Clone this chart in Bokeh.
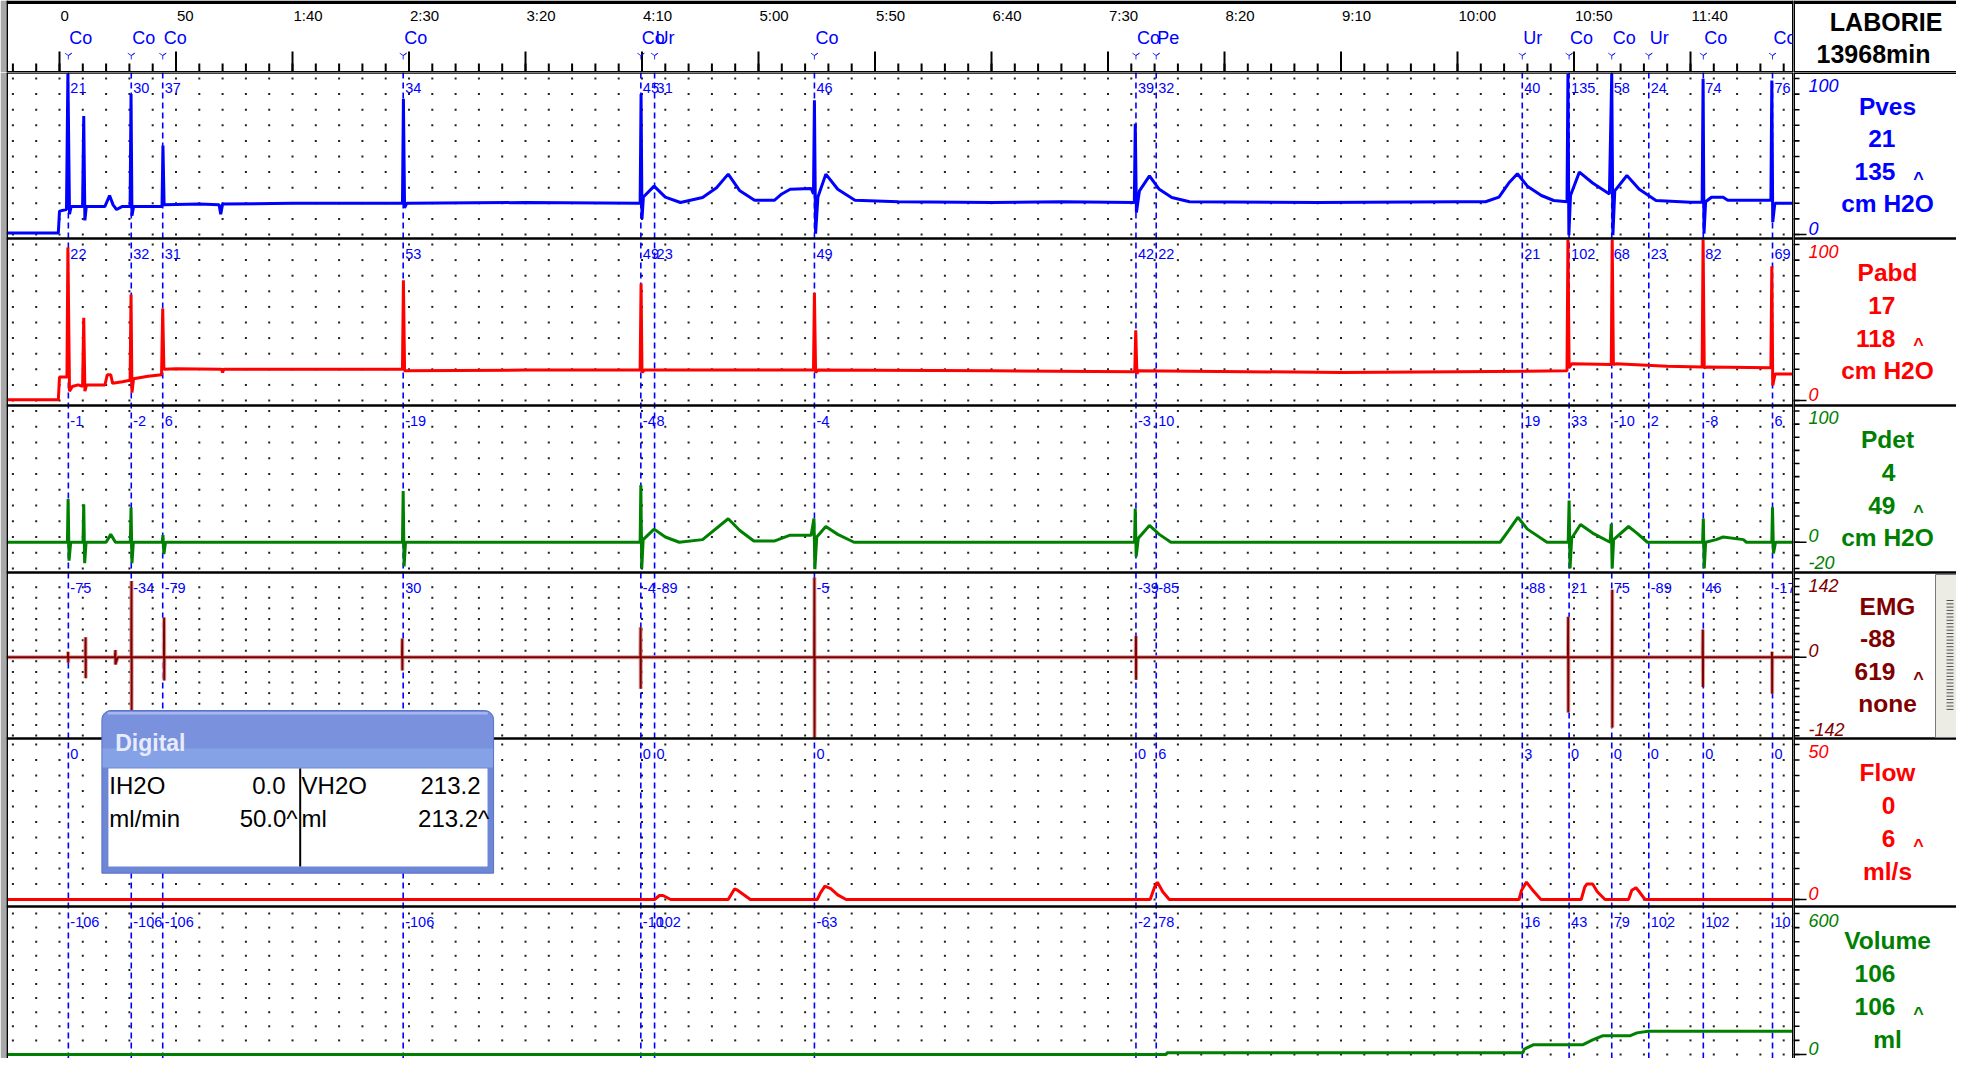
import numpy as np
from bokeh.plotting import figure
from bokeh.models import Range1d
from bokeh.layouts import row, column
from bokeh.embed import file_html
from bokeh.resources import INLINE
from bokeh.core.properties import value

# ---------------- values ----------------
tick_seconds = [0, 50, 100, 150, 200, 250, 300, 350, 400, 450, 500, 550, 600, 650, 700]
tick_labels = ["0", "50", "1:40", "2:30", "3:20", "4:10", "5:00", "5:50",
               "6:40", "7:30", "8:20", "9:10", "10:00", "10:50", "11:40"]
minor_tick_seconds = list(range(-20, 750, 10))

event_times = [3.8, 30.8, 44.3, 147.5, 249.5, 255.4, 324.0, 462.0, 470.7,
               627.8, 647.9, 666.2, 682.1, 705.5, 735.2]
event_codes = ["Co", "Co", "Co", "Co", "Co", "Ur", "Co", "Co", "Pe",
               "Ur", "Co", "Co", "Ur", "Co", "Co"]

pves_marks = ["21", "30", "37", "34", "45", "31", "46", "39", "32", "40", "135", "58", "24", "74", "76"]
pabd_marks = ["22", "32", "31", "53", "49", "23", "49", "42", "22", "21", "102", "68", "23", "82", "69"]
pdet_marks = ["-1", "-2", "6", "-19", "-4", "8", "-4", "-3", "10", "19", "33", "-10", "2", "-8", "6"]
emg_marks = ["-75", "-34", "-79", "30", "-4", "-89", "-5", "-39", "-85", "-88", "21", "75", "-89", "46", "-17"]
flow_marks = ["0", "0", "0", "0", "0", "0", "0", "0", "6", "3", "0", "0", "0", "0", "0"]
volume_marks = ["-106", "-106", "-106", "-106", "-10", "102", "-63", "-2", "78", "16", "43", "79", "102", "102", "102"]

pves_t = [-22.7, -0.5, 0.0, 3.0, 3.6, 4.3, 5.0, 9.9, 10.4, 10.9, 11.5, 19.5, 21.5, 23.0, 24.5, 27.0,
          30.3, 30.7, 31.1, 31.8, 44.0, 44.4, 44.9, 60.0, 68.5, 69.2, 70.0, 100.0, 147.2, 147.6, 148.1,
          149.0, 200.0, 249.2, 249.6, 250.0, 250.6, 255.2, 260.0, 266.5, 276.0, 282.0, 287.0, 292.0,
          298.3, 306.9, 310.0, 313.6, 322.6, 323.6, 324.0, 324.5, 325.5, 328.9, 334.0, 341.4, 360.0,
          400.0, 430.0, 461.3, 461.7, 462.2, 463.5, 467.8, 472.0, 477.4, 485.0, 540.0, 600.0, 612.0,
          617.8, 622.0, 625.7, 630.0, 636.0, 641.3, 647.0, 647.4, 647.8, 648.5, 652.3, 658.0, 665.2,
          666.2, 666.7, 667.5, 672.7, 678.0, 685.2, 700.0, 705.0, 705.4, 705.8, 706.5, 709.0, 714.0,
          716.0, 734.5, 734.9, 735.3, 736.2, 744.2]
pves_v = [1, 1, 15, 16, 103, 13, 18, 18, 76, 9, 18, 18, 25, 19, 16, 18,
          18, 90, 12, 18, 18, 57, 19, 19.5, 19, 13, 19.5, 20, 20, 87, 17,
          20, 20.5, 20, 90, 10, 24, 31, 24, 20.5, 23.7, 30, 38.7, 28,
          22, 22, 26, 29, 29.5, 26, 86, 0.5, 24, 38.7, 29, 22, 21,
          20.5, 21, 20.5, 71, 14, 28, 37.6, 29, 23.7, 21, 20.5, 21, 21,
          24, 33, 38.9, 31, 25, 21.8, 21, 103, -0.5, 25, 40, 33, 26,
          103, -0.5, 28, 37.8, 29, 21.8, 20.7, 20.7, 99.8, 0.6, 21, 23.9, 23.9,
          22, 22, 98.7, 7.9, 20, 20]

pabd_t = [-22.7, -0.5, 0.0, 3.2, 3.6, 4.3, 5.5, 8.0, 9.9, 10.4, 10.9, 11.6, 19.5, 20.5, 22.0, 22.8,
          27.0, 30.3, 30.7, 31.1, 31.8, 38.0, 43.8, 44.3, 44.8, 50.0, 69.5, 70.0, 70.5, 100.0, 147.2,
          147.6, 148.1, 200.0, 249.2, 249.6, 250.0, 251.0, 323.6, 324.0, 324.5, 325.5, 400.0, 461.5,
          461.9, 462.4, 463.0, 550.0, 600.0, 647.0, 647.4, 647.9, 649.0, 666.0, 666.4, 666.9, 668.0,
          690.0, 705.0, 705.4, 705.9, 707.0, 734.5, 734.9, 735.3, 736.3, 744.2]
pabd_v = [0.5, 0.5, 15, 15, 98, 6, 9, 10, 9, 53, 6, 10, 10, 16.5, 16.5, 11,
          12, 13, 68, 5, 14, 15.5, 16.5, 59, 20, 20.3, 20, 18, 20, 20, 20,
          77, 19, 19.5, 19.5, 75, 18, 19.5, 19.5, 69, 18, 19.5, 19, 18.5,
          45, 17, 19, 18, 18.5, 19, 103, 21, 23.5, 23, 103, 23, 23.5,
          22, 21.4, 103, 21, 21.4, 21, 86, 9.6, 17, 17]

pdet_t = [-22.7, 3.4, 3.7, 4.1, 4.8, 10.1, 10.4, 10.8, 11.4, 20.0, 22.0, 24.0, 30.4, 30.7, 31.1,
          31.7, 44.1, 44.4, 44.8, 45.5, 147.2, 147.5, 147.9, 148.5, 249.2, 249.5, 249.9, 250.5,
          255.2, 260.0, 266.0, 276.0, 287.0, 292.0, 298.0, 307.0, 313.6, 322.6, 323.8, 324.2, 325.0,
          328.9, 334.0, 341.0, 461.4, 461.7, 462.1, 463.0, 467.8, 472.0, 477.0, 618.3, 622.0, 625.9,
          630.0, 638.4, 647.5, 647.9, 648.3, 649.0, 652.8, 658.0, 665.5, 666.0, 666.4, 667.0, 673.4,
          677.0, 681.5, 705.2, 705.5, 705.9, 706.5, 711.0, 714.0, 722.7, 724.0, 734.9, 735.2, 735.6,
          736.5, 744.2]
pdet_v = [0, 0, 33, -14, 0, 0, 29, -16, 0, 0, 6, 0, 0, 26.5, -16,
          0, 0, 5.4, -9, 0, 0, 39, -18.5, 0, 0, 43.7, -20, 2,
          10, 4, 0, 2, 17.9, 9, 1, 1, 5.4, 5.4, 18, -20.5, 4,
          12, 6, 0, 0, 25.7, -11, 3, 12.8, 6, 0, 0, 9, 19,
          10, 0, 0, 31.8, -20, 3, 13.5, 7, 0, 14, -20, 2, 12,
          7, 0, 0, 18, -20, 0, 2, 4, 2, 0, 0, 26.7, -8.6,
          0, 0]

emg_t = [-22.7, 3.6, 3.7, 3.75, 3.8, 11.1, 11.2, 11.25, 11.3, 23.8, 24.0, 24.0, 25.0,
         30.8, 30.9, 30.95, 31.0, 44.8, 44.9, 44.95, 45.0, 147.0, 147.1, 147.15, 147.2,
         249.3, 249.4, 249.45, 249.5, 323.9, 324.0, 324.05, 324.1, 461.9, 462.0, 462.05, 462.1,
         647.4, 647.5, 647.55, 647.6, 666.3, 666.4, 666.45, 666.5, 705.2, 705.3, 705.35, 705.4,
         734.9, 735.0, 735.05, 735.1, 744.2]
emg_v = [0, 0, 10, -10, 0, 0, 36, -38, 0, 0, 13, -13, 0,
         0, 138, -97, 0, 0, 72, -42, 0, 0, 34, -24, 0,
         0, 54, -57, 0, 0, 144, -145, 0, 0, 39, -41, 0,
         0, 73, -100, 0, 0, 122, -127, 0, 0, 50, -54, 0,
         0, 10, -66, 0, 0]

flow_t = [-22.7, 255.4, 257.5, 259.0, 262.3, 287.0, 289.7, 291.0, 296.5, 325.2, 326.5, 328.5,
          331.0, 334.0, 337.6, 468.1, 470.0, 471.2, 473.5, 476.3, 626.4, 627.5, 629.6, 632.5,
          635.8, 653.1, 654.6, 655.5, 658.0, 660.0, 663.3, 673.4, 674.8, 676.6, 678.0, 680.5, 744.2]
flow_v = [0, 0, 1.3, 1.3, 0, 0, 3.4, 3.0, 0, 0, 2.0, 4.3,
          3.5, 1.5, 0, 0, 4.0, 5.6, 2.5, 0, 0, 3.0, 5.6, 2.8,
          0, 0, 4.0, 5.0, 5.0, 2.5, 0, 0, 3.0, 3.8, 2.5, 0, 0]

volume_t = [-22.7, 475.0, 475.3, 628.0, 628.7, 632.7, 653.9, 658.0, 662.5, 674.2, 677.0, 681.9, 744.2]
volume_v = [0, 0, 7, 7, 23, 42, 42, 62, 80, 80, 92, 99, 99]

chan_names = ["Pves", "Pabd", "Pdet", "EMG", "Flow", "Volume"]
chan_current = ["21", "17", "4", "-88", "0", "106"]
chan_max = ["135", "118", "49", "619", "6", "106"]
chan_units = ["cm H2O", "cm H2O", "cm H2O", "none", "ml/s", "ml"]

digital_left = ["IH2O", "ml/min"]
digital_left_vals = ["0.0", "50.0^"]
digital_right = ["VH2O", "ml"]
digital_right_vals = ["213.2", "213.2^"]

# ---------------- geometry / styling ----------------
FONT = value("Liberation Sans")
BLUE, RED, GREEN, DRED = "#0000ff", "#ff0000", "#008000", "#800000"
PX_PER_S, X_ZERO = 2.33, 59.0
LEFT_B = 6
T0, T1 = (LEFT_B - X_ZERO) / PX_PER_S, (1793 - X_ZERO) / PX_PER_S
BOT, TOP = 1058, 72
bands = [72, 238, 405, 572, 738, 906, 1058]
ref_h = [166, 167, 167, 166, 168, 168]
XR = Range1d(T0, T1)
LEFT_W, RIGHT_W = 1793, 163
HEAD_H, MAIN_H = 72, 986
RX0, RX1 = 1793, 1956


def chan_range(va, ya, vb, yb):
    s = (vb - va) / (yb - ya)
    return Range1d(start=va + s * (BOT - ya), end=va + s * (TOP - ya))


channels = [
    dict(key="pves", rng=chan_range(0, 234, 100, 78), t=pves_t, v=pves_v, color=BLUE, marks=pves_marks,
         rows=list(range(0, 101, 10)), ticks=list(range(0, 101, 10)),
         labels=[(100, "100", "top"), (0, "0", "bottom")]),
    dict(key="pabd", rng=chan_range(0, 400, 100, 244), t=pabd_t, v=pabd_v, color=RED, marks=pabd_marks,
         rows=list(range(0, 101, 10)), ticks=list(range(0, 101, 10)),
         labels=[(100, "100", "top"), (0, "0", "bottom")]),
    dict(key="pdet", rng=chan_range(0, 541.75, 100, 410.5), t=pdet_t, v=pdet_v, color=GREEN, marks=pdet_marks,
         rows=list(range(-20, 101, 12)), ticks=list(range(-20, 101, 10)),
         labels=[(100, "100", "top"), (0, "0", "bottom"), (-20, "-20", "bottom")]),
    dict(key="emg", rng=chan_range(0, 656.7, 142, 578.2), t=emg_t, v=emg_v, color=DRED, marks=emg_marks,
         rows=list(np.linspace(-141.6, 126.6, 15)), ticks=list(np.linspace(-142, 142, 21)),
         labels=[(142, "142", "top"), (0, "0", "bottom"), (-142, "-142", "bottom")]),
    dict(key="flow", rng=chan_range(0, 899, 50, 744), t=flow_t, v=flow_v, color=RED, marks=flow_marks,
         rows=list(range(0, 51, 5)), ticks=list(range(0, 51, 5)),
         labels=[(50, "50", "top"), (0, "0", "bottom")]),
    dict(key="volume", rng=chan_range(0, 1054, 600, 913), t=volume_t, v=volume_v, color=GREEN, marks=volume_marks,
         rows=list(range(0, 601, 60)), ticks=list(range(0, 601, 60)),
         labels=[(600, "600", "top"), (0, "0", "bottom")]),
]


def mkfig(w, h, xr, yr, left=0):
    return figure(width=w, height=h, x_range=xr, y_range=yr, output_backend="svg",
                  toolbar_location=None, x_axis_type=None, y_axis_type=None,
                  min_border_left=left, min_border_right=0, min_border_top=0, min_border_bottom=0,
                  outline_line_color=None, background_fill_color="white",
                  border_fill_color="#a8a8a8" if left else "white")


def txt(f, x, y, t, size, color, align="left", baseline="middle", style="normal", **kw):
    f.text(x=x, y=y, text=t, text_font=FONT, text_font_size=value(size), text_color=color,
           text_align=align, text_baseline=baseline, text_font_style=style, **kw)


n_ev = len(event_times)

# ---------------- header (time axis + event codes) ----------------
hf = mkfig(LEFT_W, HEAD_H, XR, Range1d(72, 0), left=LEFT_B)
nm, nn = len(tick_seconds), len(minor_tick_seconds)
hf.quad(left=[T0], right=[T1], top=[0], bottom=[3.5], fill_color="black", line_color=None)
hf.segment(x0=minor_tick_seconds, y0=[72] * nn, x1=minor_tick_seconds, y1=[63] * nn,
           line_color="black", line_width=2)
hf.segment(x0=tick_seconds, y0=[72] * nm, x1=tick_seconds, y1=[51] * nm, line_color="black", line_width=2)
hf.segment(x0=[T0], y0=[72], x1=[T1], y1=[72], line_color="black", line_width=3)
hf.segment(x0=[T0, T1], y0=[0, 0], x1=[T0, T1], y1=[72, 72], line_color="black", line_width=3)
txt(hf, tick_seconds, [15] * nm, tick_labels, "15px", "black", x_offset=1)
txt(hf, event_times, [37.5] * n_ev, event_codes, "18px", BLUE, x_offset=1)
hf.scatter(x=event_times, y=[55] * n_ev, marker="y", size=8, line_color=BLUE, line_width=1, line_alpha=0.8)

hl = mkfig(RIGHT_W, HEAD_H, Range1d(RX0, RX1), Range1d(72, 0))
hl.quad(left=[RX0], right=[RX1], top=[0], bottom=[3.5], fill_color="black", line_color=None)
hl.segment(x0=[RX0, RX0], y0=[0, 72], x1=[RX0, RX1], y1=[72, 72], line_color="black", line_width=3)
txt(hl, [1885.6], [21], ["LABORIE"], "25px", "black", align="center", style="bold")
txt(hl, [1873], [53], ["13968min"], "25px", "black", align="center", style="bold")

# ---------------- main traces area ----------------
BASE_Y = Range1d(BOT, TOP)
main = mkfig(LEFT_W, MAIN_H, XR, BASE_Y, left=LEFT_B)
main.extra_y_ranges = {c["key"]: c["rng"] for c in channels}

dot_x = list(range(-20, 741, 10))
for c in channels:
    gx, gy = np.meshgrid(dot_x, c["rows"])
    main.scatter(x=gx.ravel(), y=gy.ravel(), y_range_name=c["key"], marker="square", size=2,
                 fill_color="#202020", line_color=None)

main.segment(x0=event_times, y0=[TOP] * n_ev, x1=event_times, y1=[BOT] * n_ev,
             line_color=BLUE, line_width=1.6, line_dash="6 4")

for c in channels:
    if c["key"] == "emg":
        main.line(c["t"], c["v"], y_range_name="emg", line_color="#dca0a0", line_width=4)
        main.line(c["t"], c["v"], y_range_name="emg", line_color=DRED, line_width=2)
    else:
        main.line(c["t"], c["v"], y_range_name=c["key"], line_color=c["color"], line_width=3)

for i, c in enumerate(channels):
    txt(main, event_times, [bands[i] + 15] * n_ev, c["marks"], "14.5px", BLUE, x_offset=2)

main.segment(x0=[T0] * 6, y0=bands[0:6], x1=[T1] * 6, y1=bands[0:6], line_color="black", line_width=2.5)
main.segment(x0=[T0, T1], y0=[TOP, TOP], x1=[T0, T1], y1=[BOT, BOT], line_color="black", line_width=3)

# floating "Digital" window
bl, br, btop, bbot = 18.2, 186.3, 710.0, 872.7
rx, ry = 3.9, 9.0


def rounded_top(l, r, top, bottom, n=7):
    xs, ys = [l], [bottom]
    a1 = np.linspace(np.pi, np.pi / 2, n)
    xs += list(l + rx + rx * np.cos(a1))
    ys += list(top + ry - ry * np.sin(a1))
    a2 = np.linspace(np.pi / 2, 0, n)
    xs += list(r - rx + rx * np.cos(a2))
    ys += list(top + ry - ry * np.sin(a2))
    xs += [r]
    ys += [bottom]
    return xs, ys


ox, oy = rounded_top(bl, br, btop, bbot)
main.patch(ox, oy, fill_color="#6d86d6", line_color="#5b72c8", line_width=1)
hx, hy = rounded_top(bl + 0.3, br - 0.3, btop + 1, 767)
main.patch(hx, hy, fill_color="#7a92de", line_color=None)
main.quad(left=[bl + 0.3], right=[br - 0.3], top=[748], bottom=[767], fill_color="#8aa7ea",
          fill_alpha=0.75, line_color=None)
main.quad(left=[bl + 2.5], right=[br - 2.5], top=[711.5], bottom=[714], fill_color="#a7b6ef",
          line_color=None)
main.quad(left=[21.0], right=[183.7], top=[768], bottom=[866], fill_color="white", line_color=None)
main.segment(x0=[103.3], y0=[768], x1=[103.3], y1=[866], line_color="black", line_width=2)
txt(main, [23.9], [742], ["Digital"], "23px", "#e6ecfb", style="bold")
txt(main, [21.4, 21.4], [785, 818], digital_left, "24px", "black")
txt(main, [97.0, 102.2], [785, 818], digital_left_vals, "24px", "black", align="right")
txt(main, [103.9, 103.9], [785, 818], digital_right, "24px", "black")
txt(main, [180.7, 184.5], [785, 818], digital_right_vals, "24px", "black", align="right")

# ---------------- right-hand channel labels ----------------
rf = mkfig(RIGHT_W, MAIN_H, Range1d(RX0, RX1), BASE_Y)
rf.extra_y_ranges = {c["key"]: c["rng"] for c in channels}
for c in channels:
    k = len(c["ticks"])
    rf.segment(x0=[RX0] * k, y0=c["ticks"], x1=[1799] * k, y1=c["ticks"], y_range_name=c["key"],
               line_color="black", line_width=1.6)
    rf.segment(x0=[RX0], y0=[0], x1=[1806], y1=[0], y_range_name=c["key"],
               line_color="black", line_width=1.6)
    for val, lab, base in c["labels"]:
        txt(rf, [1808], [val], [lab], "18px", c["color"], baseline=base, style="italic",
            y_range_name=c["key"])

rf.segment(x0=[RX0] * 5, y0=bands[1:6], x1=[RX1] * 5, y1=bands[1:6], line_color="black", line_width=2.5)
rf.segment(x0=[RX0], y0=[TOP], x1=[RX0], y1=[BOT], line_color="black", line_width=3)
rf.segment(x0=[RX0], y0=[TOP], x1=[RX1], y1=[TOP], line_color="black", line_width=3)

# scroll handle in the EMG label box
rf.quad(left=[1935], right=[1960], top=[574], bottom=[737], fill_color="#ecebe4", line_color="#7a7a7a")
ruler_y = list(np.arange(600, 712, 3.3))
rf.segment(x0=[1946] * len(ruler_y), y0=ruler_y, x1=[1953] * len(ruler_y), y1=ruler_y,
           line_color="#505050", line_width=1)

colors = [c["color"] for c in channels]
name_y = [bands[i] + 0.205 * ref_h[i] for i in range(6)]
cur_y = [bands[i] + 0.400 * ref_h[i] for i in range(6)]
max_y = [bands[i] + 0.598 * ref_h[i] for i in range(6)]
unit_y = [bands[i] + 0.792 * ref_h[i] for i in range(6)]
txt(rf, [1887] * 6, name_y, chan_names, "24.5px", colors, align="center", style="bold")
txt(rf, [1895] * 6, cur_y, chan_current, "24.5px", colors, align="right", style="bold")
txt(rf, [1895] * 6, max_y, chan_max, "24.5px", colors, align="right", style="bold")
txt(rf, [1918] * 6, max_y, ["^"] * 6, "18px", colors, align="center", style="bold", y_offset=7)
txt(rf, [1887] * 6, unit_y, chan_units, "24.5px", colors, align="center", style="bold")

p = column(row(hf, hl), row(main, rf))
open("out.html", "w").write(file_html(p, INLINE))
